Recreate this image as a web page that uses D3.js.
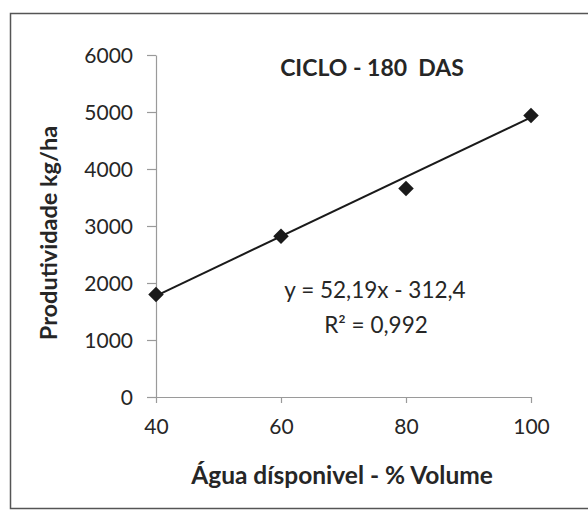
<!DOCTYPE html>
<html>
<head>
<meta charset="utf-8">
<title>Ciclo - 180 DAS</title>
<script src="https://d3js.org/d3.v7.min.js"></script>
<style>
    html, body { margin: 0; padding: 0; background: #fff; }
    svg text { font-family: Lato, "Open Sans", sans-serif; fill: #262626; white-space: pre; }
    .axis path, .axis line { stroke: #9a9a9a; stroke-width: 1.2; }
    .axis text { font-size: 21px; fill: #262626; }
</style>
</head>
<body>
<div id="graph"></div>
<script>
    // water available (% volume) vs yield
    var agua = [40, 60, 80, 100];
    var produtividade = [1800, 2820, 3660, 4940];
    var yTicks = [0, 1000, 2000, 3000, 4000, 5000, 6000];
    var xTicks = [40, 60, 80, 100];
    // linear trend: y = a*x + b
    var slope = 52.19, intercept = -312.4;
    var eqLabel = "y = 52,19x - 312,4";
    var r2Label = "R² = 0,992";

    var W = 588, H = 513;
    var margin = {left: 156, right: 57, top: 55, bottom: 116};

    var svg = d3.select("#graph").append("svg")
        .attr("width", W).attr("height", H);

    // outer chart frame
    svg.append("rect")
        .attr("x", 10.5).attr("y", 13.5)
        .attr("width", 590).attr("height", 495)
        .attr("fill", "none").attr("stroke", "#555").attr("stroke-width", 1.5);

    var x = d3.scaleLinear().domain([40, 100]).range([margin.left, W - margin.right]);
    var y = d3.scaleLinear().domain([0, 6000]).range([H - margin.bottom, margin.top]);

    svg.append("g")
        .attr("class", "axis")
        .attr("transform", "translate(" + margin.left + ",0)")
        .call(d3.axisLeft(y).tickValues(yTicks).tickFormat(d3.format("d"))
            .tickSize(9).tickPadding(14).tickSizeOuter(0))
        .selectAll("text").attr("dy", "0.35em");

    svg.append("g")
        .attr("class", "axis")
        .attr("transform", "translate(0," + (H - margin.bottom) + ")")
        .call(d3.axisBottom(x).tickValues(xTicks).tickFormat(d3.format("d"))
            .tickSize(6).tickPadding(16).tickSizeOuter(0));

    // trend line from the fitted equation
    svg.append("line")
        .attr("x1", x(40)).attr("y1", y(slope * 40 + intercept))
        .attr("x2", x(100)).attr("y2", y(slope * 100 + intercept))
        .attr("stroke", "#1a1a1a").attr("stroke-width", 2);

    // diamond markers
    var diamond = d3.symbol().type(d3.symbolSquare).size(120);
    svg.selectAll(".pt")
        .data(agua)
        .enter().append("path")
        .attr("class", "pt")
        .attr("d", diamond)
        .attr("transform", function(d, i) {
            return "translate(" + x(d) + "," + y(produtividade[i]) + ") rotate(45)";
        })
        .attr("fill", "#1a1a1a");

    svg.append("text")
        .attr("x", 372).attr("y", 76)
        .attr("text-anchor", "middle")
        .style("font-size", "23px").style("font-weight", "bold")
        .text("CICLO - 180  DAS");

    svg.append("text")
        .attr("x", 342).attr("y", 484)
        .attr("text-anchor", "middle")
        .style("font-size", "24.5px").style("font-weight", "bold")
        .text("Água dísponivel - % Volume");

    svg.append("text")
        .attr("transform", "translate(57,233) rotate(-90)")
        .attr("text-anchor", "middle")
        .style("font-size", "23.5px").style("font-weight", "bold")
        .text("Produtividade kg/ha");

    svg.append("text")
        .attr("x", 375).attr("y", 298)
        .attr("text-anchor", "middle")
        .style("font-size", "22.5px")
        .text(eqLabel);

    svg.append("text")
        .attr("x", 376).attr("y", 333)
        .attr("text-anchor", "middle")
        .style("font-size", "22.5px")
        .text(r2Label);
</script>
</body>
</html>
